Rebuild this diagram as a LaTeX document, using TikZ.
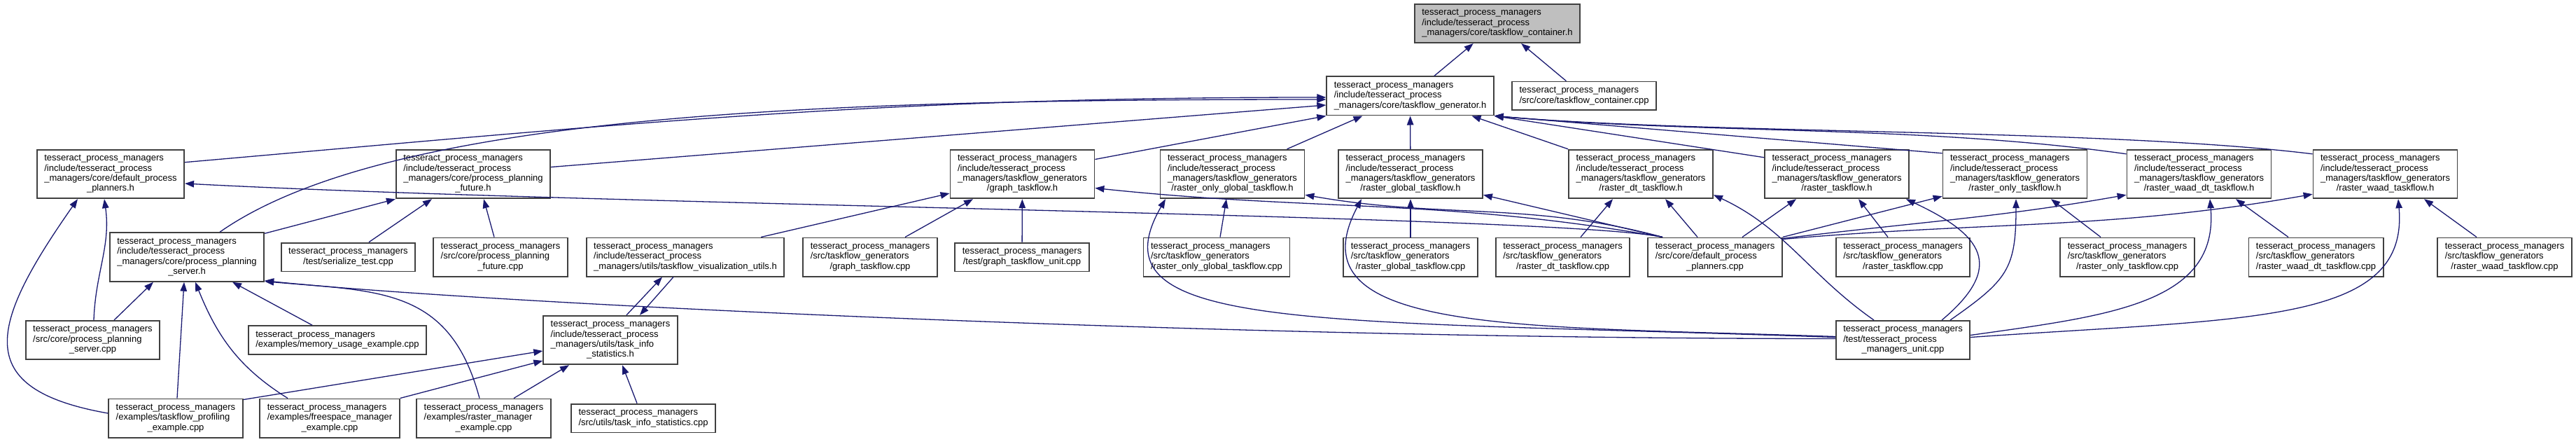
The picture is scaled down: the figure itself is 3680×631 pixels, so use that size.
\documentclass[tikz,border=0pt]{standalone}
\usepackage{fontspec}
\setmainfont{Liberation Sans}
\usepackage{xcolor}
\usepackage{tikz}
\usetikzlibrary{arrows.meta}

\definecolor{edgeblue}{HTML}{191970}
\definecolor{boxline}{HTML}{404040}
\definecolor{curfill}{HTML}{BFBFBF}

\newcommand{\tpm}{tesseract\_process\_managers}
\newcommand{\tpminc}{/include/tesseract\_process}
\newcommand{\lbl}[2]{\begin{tabular}{@{}l@{}}#1\\\multicolumn{1}{@{}c@{}}{#2}\end{tabular}}

\begin{document}
\begin{tikzpicture}[
    x=1pt, y=1pt,
    file/.style={draw=boxline, fill=white, line width=1.8pt, inner xsep=10.5pt, inner ysep=6pt, font=\fontsize{13}{14.4}\selectfont},
    mainfile/.style={file, fill=curfill},
    incl/.style={-{Triangle[length=13pt,width=9.5pt]}, draw=edgeblue, line width=1.3pt}
]
\useasboundingbox (0,0) rectangle (3680,-631);

% Top
\node[mainfile] (cont) at (2139,-33.5) {\lbl{\tpm\\\tpminc}{\_managers/core/taskflow\_container.h}};
\node[file] (gen) at (2014.5,-137) {\lbl{\tpm\\\tpminc}{\_managers/core/taskflow\_generator.h}};
\node[file] (contcpp) at (2263,-137) {\lbl{\tpm}{/src/core/taskflow\_container.cpp}};

% Headers
\node[file] (dpph) at (158,-248.5) {\lbl{\tpm\\\tpminc\\\_managers/core/default\_process}{\_planners.h}};
\node[file] (ppfh) at (676,-248.5) {\lbl{\tpm\\\tpminc\\\_managers/core/process\_planning}{\_future.h}};
\node[file] (graphh) at (1460.5,-248.5) {\lbl{\tpm\\\tpminc\\\_managers/taskflow\_generators}{/graph\_taskflow.h}};
\node[file] (rogh) at (1760.5,-248.5) {\lbl{\tpm\\\tpminc\\\_managers/taskflow\_generators}{/raster\_only\_global\_taskflow.h}};
\node[file] (rglobh) at (2015,-248.5) {\lbl{\tpm\\\tpminc\\\_managers/taskflow\_generators}{/raster\_global\_taskflow.h}};
\node[file] (rdth) at (2344,-248.5) {\lbl{\tpm\\\tpminc\\\_managers/taskflow\_generators}{/raster\_dt\_taskflow.h}};
\node[file] (rasth) at (2624,-248.5) {\lbl{\tpm\\\tpminc\\\_managers/taskflow\_generators}{/raster\_taskflow.h}};
\node[file] (ronlyh) at (2878.5,-248.5) {\lbl{\tpm\\\tpminc\\\_managers/taskflow\_generators}{/raster\_only\_taskflow.h}};
\node[file] (rwdth) at (3141.5,-248.5) {\lbl{\tpm\\\tpminc\\\_managers/taskflow\_generators}{/raster\_waad\_dt\_taskflow.h}};
\node[file] (rwh) at (3407.5,-248.5) {\lbl{\tpm\\\tpminc\\\_managers/taskflow\_generators}{/raster\_waad\_taskflow.h}};

% Third row
\node[file] (ppsh) at (267,-367) {\lbl{\tpm\\\tpminc\\\_managers/core/process\_planning}{\_server.h}};
\node[file] (sertest) at (497.5,-367) {\lbl{\tpm}{/test/serialize\_test.cpp}};
\node[file] (ppfcpp) at (715,-367) {\lbl{\tpm\\/src/core/process\_planning}{\_future.cpp}};
\node[file] (tvuh) at (979,-367) {\lbl{\tpm\\\tpminc}{\_managers/utils/taskflow\_visualization\_utils.h}};
\node[file] (graphcpp) at (1243,-367) {\lbl{\tpm\\/src/taskflow\_generators}{/graph\_taskflow.cpp}};
\node[file] (graphunit) at (1460,-367) {\lbl{\tpm}{/test/graph\_taskflow\_unit.cpp}};
\node[file] (rogcpp) at (1738,-367) {\lbl{\tpm\\/src/taskflow\_generators}{/raster\_only\_global\_taskflow.cpp}};
\node[file] (rglobcpp) at (2015,-367) {\lbl{\tpm\\/src/taskflow\_generators}{/raster\_global\_taskflow.cpp}};
\node[file] (rdtcpp) at (2232.5,-367) {\lbl{\tpm\\/src/taskflow\_generators}{/raster\_dt\_taskflow.cpp}};
\node[file] (dppcpp) at (2450,-367) {\lbl{\tpm\\/src/core/default\_process}{\_planners.cpp}};
\node[file] (rastcpp) at (2718.5,-367) {\lbl{\tpm\\/src/taskflow\_generators}{/raster\_taskflow.cpp}};
\node[file] (ronlycpp) at (3039,-367) {\lbl{\tpm\\/src/taskflow\_generators}{/raster\_only\_taskflow.cpp}};
\node[file] (rwdtcpp) at (3308.5,-367) {\lbl{\tpm\\/src/taskflow\_generators}{/raster\_waad\_dt\_taskflow.cpp}};
\node[file] (rwcpp) at (3578,-367) {\lbl{\tpm\\/src/taskflow\_generators}{/raster\_waad\_taskflow.cpp}};

% Fourth row
\node[file] (ppscpp) at (132.5,-485.5) {\lbl{\tpm\\/src/core/process\_planning}{\_server.cpp}};
\node[file] (memusage) at (482,-485.5) {\lbl{\tpm}{/examples/memory\_usage\_example.cpp}};
\node[file] (tish) at (872,-485.5) {\lbl{\tpm\\\tpminc\\\_managers/utils/task\_info}{\_statistics.h}};
\node[file] (unit) at (2718.5,-485.5) {\lbl{\tpm\\/test/tesseract\_process}{\_managers\_unit.cpp}};

% Bottom row
\node[file] (profiling) at (251,-597) {\lbl{\tpm\\/examples/taskflow\_profiling}{\_example.cpp}};
\node[file] (freespace) at (471,-597) {\lbl{\tpm\\/examples/freespace\_manager}{\_example.cpp}};
\node[file] (rastermgr) at (691,-597) {\lbl{\tpm\\/examples/raster\_manager}{\_example.cpp}};
\node[file] (tiscpp) at (919,-597) {\lbl{\tpm}{/src/utils/task\_info\_statistics.cpp}};

% Into taskflow_container.h
\draw[incl] (gen) -- (cont);
\draw[incl] (contcpp) -- (cont);

% Into taskflow_generator.h
\draw[incl] (dpph.9) .. controls +(5:638) and +(180:638) .. ([yshift=-2pt]gen.west);
\draw[incl] ([xshift=47pt]ppsh.north) .. controls +(35:300) and +(180:700) .. ([yshift=-5pt]gen.west);
\draw[incl] ([yshift=10pt]ppfh.east) -- ([yshift=-13pt]gen.west);
\draw[incl] ([yshift=21pt]graphh.east) -- (gen.south west);
\draw[incl] ([xshift=78pt]rogh.north) -- ([xshift=-68pt]gen.south);
\draw[incl] (rglobh) -- (gen);
\draw[incl] (rdth.north west) -- ([xshift=88pt]gen.south);
\draw[incl] ([yshift=-12pt]rasth.north west) -- (gen.south east);
\draw[incl] ([yshift=-6pt]ronlyh.north west) -- (gen.south east);
\draw[incl] ([yshift=-7pt]rwdth.north west) .. controls +(172:300) and +(-5:300) .. (gen.south east);
\draw[incl] ([yshift=-7pt]rwh.north west) .. controls +(173:300) and +(-5:300) .. (gen.south east);

% From default_process_planners.cpp
\draw[incl] ([xshift=-75pt]dppcpp.north) .. controls +(168:150) and +(-3:600) .. ([yshift=-13.5pt]dpph.east);
\draw[incl] ([xshift=-75pt]dppcpp.north) .. controls +(170:318) and +(-6:318) .. ([yshift=-20pt]graphh.east);
\draw[incl] ([xshift=-75pt]dppcpp.north) .. controls +(165:199) and +(-10:199) .. ([yshift=6pt]rogh.south east);
\draw[incl] ([xshift=-75pt]dppcpp.north) -- ([yshift=6pt]rglobh.south east);
\draw[incl] ([xshift=-25pt]dppcpp.north) -- ([xshift=35pt]rdth.south);
\draw[incl] ([xshift=39pt]dppcpp.north) -- ([xshift=-58pt]rasth.south);
\draw[incl] (dppcpp.north east) -- ([yshift=4pt]ronlyh.south west);
\draw[incl] ([yshift=-2pt]dppcpp.north east) .. controls +(7:191) and +(190:191) .. ([yshift=6pt]rwdth.south west);
\draw[incl] ([yshift=-3pt]dppcpp.north east) .. controls +(5:295) and +(190:295) .. ([yshift=7pt]rwh.south west);

% Sources of the generators
\draw[incl] ([xshift=50pt]graphcpp.north) -- ([xshift=-70.5pt]graphh.south);
\draw[incl] (graphunit) -- (graphh);
\draw[incl] ([xshift=-34pt]tvuh.north east) -- ([yshift=-27.5pt]graphh.west);
\draw[incl] ([xshift=5pt]rogcpp.north) -- ([xshift=-8.5pt]rogh.south);
\draw[incl] (rglobcpp) -- (rglobh);
\draw[incl] ([xshift=25.5pt]rdtcpp.north) -- ([xshift=-40pt]rdth.south);
\draw[incl] ([xshift=-21.5pt]rastcpp.north) -- ([xshift=31pt]rasth.south);
\draw[incl] ([xshift=-38pt]ronlycpp.north) -- ([xshift=51.5pt]ronlyh.south);
\draw[incl] ([xshift=-39.5pt]rwdtcpp.north) -- ([xshift=52.5pt]rwdth.south);
\draw[incl] ([xshift=-40pt]rwcpp.north) -- ([xshift=55.5pt]rwh.south);

% process planning files
\draw[incl] ([xshift=-9pt]ppfcpp.north) -- ([xshift=15pt]ppfh.south);
\draw[incl] ([xshift=29.5pt]sertest.north) -- ([xshift=-59pt]ppfh.south);
\draw[incl] ([yshift=-2pt]ppsh.north east) -- (ppfh.south west);
\draw[incl] ([xshift=1.5pt]ppscpp.north) .. controls +(88:68) and +(-82:68) .. ([xshift=-9pt]dpph.south);
\draw[incl] ([yshift=7pt]profiling.west) .. controls +(170:200) and +(-125:220) .. ([xshift=-47pt]dpph.south);
\draw[incl] ([xshift=30.5pt]ppscpp.north) -- ([xshift=-48pt]ppsh.south);
\draw[incl] ([xshift=2pt]profiling.north) -- ([xshift=-4pt]ppsh.south);
\draw[incl] ([xshift=-60pt]freespace.north) .. controls +(148:83) and +(-68:83) .. ([xshift=12pt]ppsh.south);
\draw[incl] ([xshift=-36pt]memusage.north) -- ([xshift=65pt]ppsh.south);
\draw[incl] ([xshift=-6pt]rastermgr.north) .. controls +(105:164) and +(-5:164) .. ([yshift=1pt]ppsh.south east);
\draw[incl] ([yshift=2pt]unit.west) .. controls +(180:900) and +(-6:300) .. ([yshift=2pt]ppsh.south east);

% tesseract_process_managers_unit.cpp
\draw[incl] ([yshift=4pt]unit.west) .. controls +(178:750) and +(-120:220) .. ([xshift=-95.5pt]rogh.south);
\draw[incl] ([yshift=5pt]unit.west) .. controls +(178:450) and +(-118:220) .. ([xshift=-70pt]rglobh.south);
\draw[incl] ([xshift=-41.5pt]unit.north) .. controls +(145:113) and +(-25:113) .. ([yshift=6pt]rdth.south east);
\draw[incl] ([xshift=55.5pt]unit.north) .. controls +(40:120) and +(-25:120) .. ([xshift=-5pt]rasth.south east);
\draw[incl] ([xshift=67.5pt]unit.north) .. controls +(35:100) and +(-90:100) .. ([xshift=1.5pt]ronlyh.south);
\draw[incl] ([yshift=7pt]unit.east) .. controls +(8:200) and +(-85:150) .. ([xshift=15.5pt]rwdth.south);
\draw[incl] ([yshift=4pt]unit.east) .. controls +(4:400) and +(-85:180) .. ([xshift=18.5pt]rwh.south);

% task_info_statistics.h
\draw[incl] ([xshift=23pt]tish.north) -- ([xshift=-33pt]tvuh.south);
\draw[incl] ([xshift=-17pt]tvuh.south) -- ([xshift=42pt]tish.north);
\draw[incl] ([yshift=-2pt]profiling.north east) -- ([yshift=-15.5pt]tish.west);
\draw[incl] (freespace.north east) -- ([yshift=-29.5pt]tish.west);
\draw[incl] ([xshift=43pt]rastermgr.north) -- ([xshift=-59pt]tish.south);
\draw[incl] ([xshift=-9pt]tiscpp.north) -- ([xshift=17pt]tish.south);

\end{tikzpicture}
\end{document}
